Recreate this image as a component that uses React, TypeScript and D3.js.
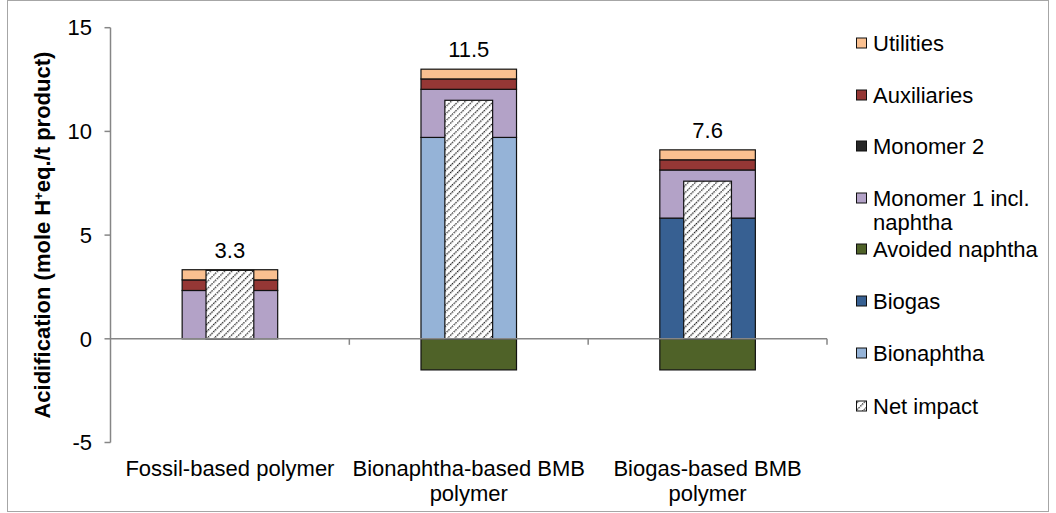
import React from "react";
import * as d3 from "d3";

const categories = ["Fossil-based polymer", "Bionaphtha-based BMB polymer", "Biogas-based BMB polymer"];
const categoryLines = [["Fossil-based polymer"], ["Bionaphtha-based BMB", "polymer"], ["Biogas-based BMB", "polymer"]];
const bionaphtha = [0, 9.71, 0];
const biogas = [0, 0, 5.82];
const monomer1 = [2.33, 2.32, 2.32];
const monomer2 = [0, 0, 0];
const auxiliaries = [0.51, 0.5, 0.49];
const utilities = [0.49, 0.47, 0.48];
const avoidedNaphtha = [0, -1.5, -1.5];
const netImpact = [3.3, 11.5, 7.6];
const yTicks = [-5, 0, 5, 10, 15];

const seriesDefs = [
  { key: "Bionaphtha", values: bionaphtha, color: "#95B3D7" },
  { key: "Biogas", values: biogas, color: "#376092" },
  { key: "Avoided naphtha", values: avoidedNaphtha, color: "#4F6228" },
  { key: "Monomer 1 incl. naphtha", values: monomer1, color: "#B3A2C7" },
  { key: "Monomer 2", values: monomer2, color: "#262626" },
  { key: "Auxiliaries", values: auxiliaries, color: "#953735" },
  { key: "Utilities", values: utilities, color: "#FAC090" },
];

const legendItems = [
  { label: ["Utilities"], color: "#FAC090" },
  { label: ["Auxiliaries"], color: "#953735" },
  { label: ["Monomer 2"], color: "#262626" },
  { label: ["Monomer 1 incl.", "naphtha"], color: "#B3A2C7" },
  { label: ["Avoided naphtha"], color: "#4F6228" },
  { label: ["Biogas"], color: "#376092" },
  { label: ["Bionaphtha"], color: "#95B3D7" },
  { label: ["Net impact"], color: "url(#hatch)" },
];
const legendY = [43, 95, 146, 198, 249, 301, 353, 406];

export default function App() {
  const W = 1056, H = 513;
  const x0 = 110.5, x1 = 827;
  const y = d3.scaleLinear().domain([-5, 15]).range([442.5, 27.7]);
  const x = d3.scaleBand().domain(categories).range([x0, x1]).paddingInner(0).paddingOuter(0);
  const bw = x.bandwidth();
  const barW = bw * 0.4;
  const netW = bw * 0.2;

  const rows = categories.map((c, i) => {
    const r: any = { cat: c };
    seriesDefs.forEach(s => (r[s.key] = s.values[i]));
    return r;
  });
  const stack = d3.stack().keys(seriesDefs.map(s => s.key)).offset(d3.stackOffsetDiverging);
  const stacked = stack(rows);
  const font = "Liberation Sans, Arial, sans-serif";
  const fs = 22;

  return (
    <svg width={W} height={H} style={{ position: "absolute", left: 0, top: 0 }} fontFamily={font}>
      <defs>
        <pattern id="hatch" patternUnits="userSpaceOnUse" width="5" height="5" patternTransform="rotate(45)">
          <rect width="5" height="5" fill="#fff" />
          <line x1="0" y1="0" x2="0" y2="5" stroke="#1a1a1a" strokeWidth="2.6" strokeDasharray="1.6,0.9" />
        </pattern>
      </defs>
      <rect x={7.5} y={0.5} width={1041} height={511} fill="#fff" stroke="#A6A6A6" />
      {stacked.map((layer, li) => {
        const s = seriesDefs[li];
        return layer.map((d, i) => {
          if (d[1] - d[0] === 0) return null;
          const cx = x(categories[i])! + bw / 2;
          return (
            <rect key={s.key + i} x={cx - barW / 2} y={y(Math.max(d[0], d[1]))}
              width={barW} height={Math.abs(y(d[0]) - y(d[1]))}
              fill={s.color} stroke="#111" strokeWidth={1.2} />
          );
        });
      })}
      {netImpact.map((v, i) => {
        const cx = x(categories[i])! + bw / 2;
        return (
          <rect key={"net" + i} x={cx - netW / 2} y={y(v)} width={netW} height={y(0) - y(v)} fill="url(#hatch)" stroke="#111" strokeWidth={1.2} />
        );
      })}
      {netImpact.map((v, i) => {
        const cx = x(categories[i])! + bw / 2;
        const top = seriesDefs.reduce((a, s) => a + Math.max(0, s.values[i]), 0);
        return (
          <text key={"lbl" + i} x={cx} y={y(Math.max(top, v)) - 12} textAnchor="middle" fontSize={fs} fill="#000">{v.toFixed(1)}</text>
        );
      })}
      {/* y axis */}
      <line x1={x0} x2={x0} y1={y(15)} y2={y(-5)} stroke="#868686" strokeWidth={1.5} />
      {yTicks.map(t => (
        <g key={t}>
          <line x1={x0 - 6} x2={x0} y1={y(t)} y2={y(t)} stroke="#868686" strokeWidth={1.5} />
          <text x={92} y={y(t)} dy="0.35em" textAnchor="end" fontSize={fs} fill="#000">{t}</text>
        </g>
      ))}
      {/* x axis at zero */}
      <line x1={x0} x2={x1} y1={y(0)} y2={y(0)} stroke="#868686" strokeWidth={1.5} />
      {[1, 2, 3].map(k => (
        <line key={k} x1={x0 + k * bw} x2={x0 + k * bw} y1={y(0)} y2={y(0) + 6} stroke="#868686" strokeWidth={1.5} />
      ))}
      {categoryLines.map((lines, i) => {
        const cx = x(categories[i])! + bw / 2;
        return (
          <text key={"cat" + i} x={cx} y={476} textAnchor="middle" fontSize={fs} fill="#000">
            {lines.map((l, j) => (
              <tspan key={j} x={cx} dy={j === 0 ? 0 : 25}>{l}</tspan>
            ))}
          </text>
        );
      })}
      <text transform={`translate(50,${y(5)}) rotate(-90)`} textAnchor="middle" fontSize={fs} fontWeight="bold" fill="#000">
        Acidification (mole H<tspan dy={-7} fontSize={13}>+</tspan><tspan dy={7}>eq./t product)</tspan>
      </text>
      {legendItems.map((it, i) => (
        <g key={"lg" + i}>
          <rect x={856.5} y={legendY[i] - 5} width={10} height={10} fill={it.color} stroke="#111" strokeWidth={1} />
          <text x={873} y={legendY[i]} fontSize={fs} fill="#000">
            {it.label.map((l, j) => (
              <tspan key={j} x={873} dy={j === 0 ? "0.35em" : 24}>{l}</tspan>
            ))}
          </text>
        </g>
      ))}
    </svg>
  );
}
